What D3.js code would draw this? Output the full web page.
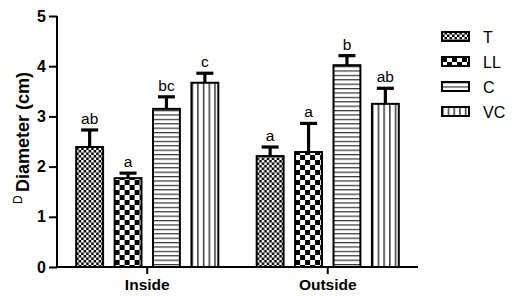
<!DOCTYPE html>
<html>
<head>
<meta charset="utf-8">
<script src="https://cdn.jsdelivr.net/npm/d3@7"></script>
<style>
  body { margin: 0; background: #fff; }
  svg { display: block; font-family: "Liberation Sans", Arial, sans-serif; }
</style>
</head>
<body>
<div class="chart"></div>
<script>
// data
var groups = ["Inside", "Outside"]
var treatments = ["T", "LL", "C", "VC"]
var means = {
    Inside:  [2.39, 1.77, 3.15, 3.67],
    Outside: [2.21, 2.29, 4.02, 3.25]
}
var errs = {
    Inside:  [0.34, 0.10, 0.24, 0.19],
    Outside: [0.18, 0.57, 0.19, 0.31]
}
var letters = {
    Inside:  ["ab", "a", "bc", "c"],
    Outside: ["a", "a", "b", "ab"]
}
var yTicks = [0, 1, 2, 3, 4, 5]

var W = 512, H = 297
var plotL = 57, plotR = 418, plotT = 16, plotB = 267

var svg = d3.select(".chart").append("svg")
    .attr("width", W).attr("height", H)

// fill patterns
var defs = svg.append("defs")
var pT = defs.append("pattern").attr("id", "pT")
    .attr("patternUnits", "userSpaceOnUse").attr("width", 5).attr("height", 5)
pT.append("rect").attr("width", 5).attr("height", 5).attr("fill", "#000")
pT.append("rect").attr("width", 2.5).attr("height", 2.5).attr("fill", "#fff")
pT.append("rect").attr("x", 2.5).attr("y", 2.5).attr("width", 2.5).attr("height", 2.5).attr("fill", "#fff")

var pLL = defs.append("pattern").attr("id", "pLL")
    .attr("patternUnits", "userSpaceOnUse").attr("width", 10).attr("height", 10)
pLL.append("rect").attr("width", 10).attr("height", 10).attr("fill", "#fff")
pLL.append("rect").attr("width", 5).attr("height", 5).attr("fill", "#000")
pLL.append("rect").attr("x", 5).attr("y", 5).attr("width", 5).attr("height", 5).attr("fill", "#000")

var pC = defs.append("pattern").attr("id", "pC")
    .attr("patternUnits", "userSpaceOnUse").attr("width", 10).attr("height", 4.4)
pC.append("rect").attr("width", 10).attr("height", 4.4).attr("fill", "#fff")
pC.append("rect").attr("y", 0).attr("width", 10).attr("height", 1.2).attr("fill", "#333")

var pVC = defs.append("pattern").attr("id", "pVC")
    .attr("patternUnits", "userSpaceOnUse").attr("width", 5.7).attr("height", 10)
pVC.append("rect").attr("width", 5.7).attr("height", 10).attr("fill", "#fff")
pVC.append("rect").attr("x", 0).attr("width", 1.6).attr("height", 10).attr("fill", "#444")

var fills = { T: "url(#pT)", LL: "url(#pLL)", C: "url(#pC)", VC: "url(#pVC)" }

var x0 = d3.scaleBand().domain(groups).range([plotL, plotR]).padding(0)
var x1 = d3.scaleBand().domain(treatments).range([0, x0.bandwidth()])
    .paddingInner(0.3).paddingOuter(0.5)
var y = d3.scaleLinear().domain([0, 5]).range([plotB, plotT])

var rows = []
groups.forEach(function(g) {
    treatments.forEach(function(t, i) {
        rows.push({ g: g, t: t, v: means[g][i], e: errs[g][i], l: letters[g][i] })
    })
})

var bars = svg.append("g").selectAll("g").data(rows).enter().append("g")
    .attr("transform", function(d) { return "translate(" + (x0(d.g) + x1(d.t)) + ",0)" })

var bw = x1.bandwidth()
// error bars first, bar outline covers the stem base
bars.append("line")
    .attr("x1", bw / 2).attr("x2", bw / 2)
    .attr("y1", function(d) { return y(d.v) }).attr("y2", function(d) { return y(d.v + d.e) })
    .attr("stroke", "#000").attr("stroke-width", 3.2)
bars.append("line")
    .attr("x1", bw / 2 - 8.5).attr("x2", bw / 2 + 8.5)
    .attr("y1", function(d) { return y(d.v + d.e) }).attr("y2", function(d) { return y(d.v + d.e) })
    .attr("stroke", "#000").attr("stroke-width", 3.2)
bars.append("rect")
    .attr("x", 0).attr("width", bw)
    .attr("y", function(d) { return y(d.v) })
    .attr("height", function(d) { return y(0) - y(d.v) })
    .attr("fill", function(d) { return fills[d.t] })
    .attr("stroke", "#000").attr("stroke-width", 2)
bars.append("text")
    .attr("x", bw / 2)
    .attr("y", function(d) { return y(d.v + d.e) - 6 })
    .attr("text-anchor", "middle")
    .attr("font-size", 15.5)
    .text(function(d) { return d.l })

// axes
var yAxis = svg.append("g").attr("transform", "translate(" + plotL + ",0)")
    .call(d3.axisLeft(y).tickValues(yTicks).tickSize(8).tickPadding(3).tickFormat(d3.format("d")))
yAxis.selectAll("path, line").attr("stroke", "#000").attr("stroke-width", 2)
yAxis.select(".domain").attr("d", "M0," + plotT + "V" + plotB)
yAxis.selectAll("text").attr("font-size", 16).attr("font-weight", "bold")
    .attr("font-family", "Liberation Sans, Arial, sans-serif").attr("fill", "#000")

var xAxis = svg.append("g").attr("transform", "translate(0," + plotB + ")")
    .call(d3.axisBottom(x0).tickSize(7).tickPadding(5))
xAxis.selectAll("path, line").attr("stroke", "#000").attr("stroke-width", 2)
xAxis.select(".domain").attr("d", "M" + plotL + ",0H" + plotR)
xAxis.selectAll("text").attr("font-size", 15.5).attr("font-weight", "bold")
    .attr("font-family", "Liberation Sans, Arial, sans-serif").attr("fill", "#000")

// y label: small raised "D" then bold title
var yl = svg.append("text")
    .attr("transform", "translate(29,138) rotate(-90)")
    .attr("text-anchor", "middle")
yl.append("tspan").attr("font-size", 12).attr("dy", -7.5).text("D ")
yl.append("tspan").attr("font-size", 18).attr("font-weight", "bold").attr("dy", 7.5).text("Diameter (cm)")

// legend
var leg = svg.append("g").selectAll("g").data(treatments).enter().append("g")
    .attr("transform", function(d, i) { return "translate(442," + (32 + i * 25) + ")" })
leg.append("rect").attr("width", 27).attr("height", 9)
    .attr("fill", function(d) { return fills[d] })
    .attr("stroke", "#000").attr("stroke-width", 2)
leg.append("text").attr("x", 41).attr("y", 10.5)
    .attr("font-size", 16).text(function(d) { return d })
</script>
</body>
</html>
